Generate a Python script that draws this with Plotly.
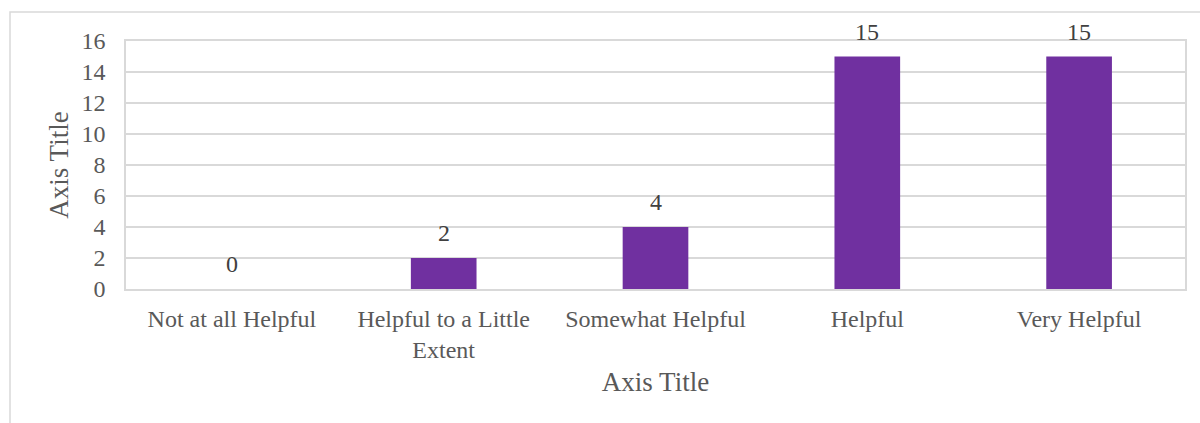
import plotly.graph_objects as go

categories = ["Not at all Helpful", "Helpful to a Little<br>Extent", "Somewhat Helpful", "Helpful", "Very Helpful"]
counts = [0, 2, 4, 15, 15]
y_ticks = [0, 2, 4, 6, 8, 10, 12, 14, 16]

W, H = 1200, 423
ML, MR, MT, MB = 126, 15, 41, 134
FONT = "Liberation Serif, Times New Roman, serif"
TXT = "#595959"
GRID = "#d9d9d9"

fig = go.Figure()
fig.add_trace(go.Bar(
    x=categories,
    y=counts,
    marker=dict(color="#7030a0", line=dict(width=0)),
    width=0.31,
    hoverinfo="x+y",
))

# value labels above each bar
for c, v in zip(categories, counts):
    fig.add_annotation(
        x=c, y=v, text=str(v), showarrow=False,
        yanchor="bottom", yshift=10,
        font=dict(family=FONT, size=24, color="#404040"),
    )

# outer chart-area frame (left and top edges visible)
pw = W - ML - MR
ph = H - MT - MB
fig.add_shape(
    type="rect", xref="paper", yref="paper",
    x0=(10 - ML) / pw, x1=(1215 - ML) / pw,
    y0=-(440 - MT - ph) / ph, y1=1 + (MT - 12) / ph,
    line=dict(color=GRID, width=1.5), fillcolor="rgba(0,0,0,0)",
    layer="below",
)

fig.update_layout(
    width=W, height=H,
    margin=dict(l=ML, r=MR, t=MT, b=MB),
    paper_bgcolor="white", plot_bgcolor="white",
    font=dict(family=FONT, color=TXT, size=24),
    showlegend=False,
    xaxis=dict(
        showline=True, mirror=True, linecolor=GRID, linewidth=1.5,
        showgrid=False, ticks="", ticklabelstandoff=7,
        tickfont=dict(size=24, color=TXT),
        title=dict(text="Axis Title", font=dict(size=27, color=TXT), standoff=10),
    ),
    yaxis=dict(
        range=[0, 16], tickvals=y_ticks,
        showline=True, mirror=True, linecolor=GRID, linewidth=1.5,
        showgrid=True, gridcolor=GRID, gridwidth=1.5, zeroline=False,
        ticks="", ticklabelstandoff=14, tickfont=dict(size=24, color=TXT),
        title=dict(text="Axis Title", font=dict(size=27, color=TXT), standoff=5),
    ),
)

fig.write_html("out.html")
